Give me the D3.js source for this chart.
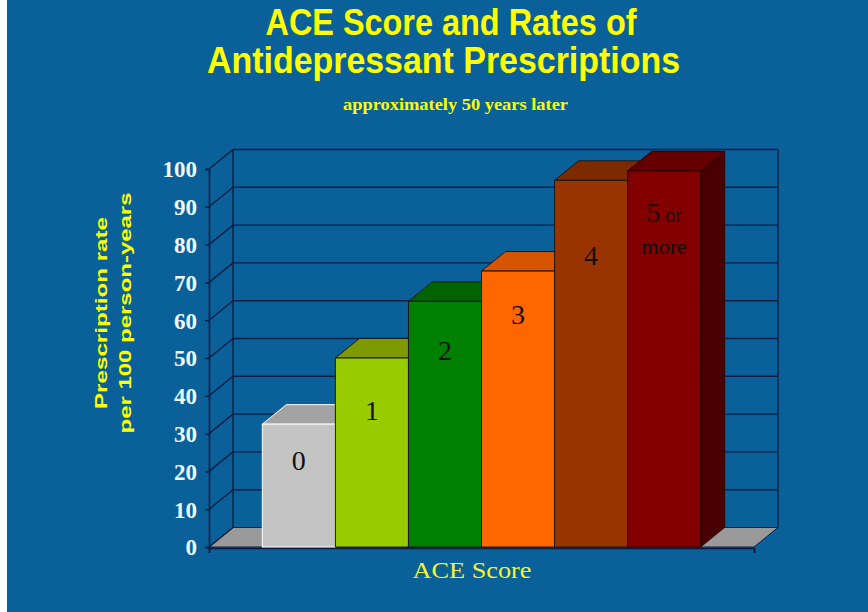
<!DOCTYPE html>
<html>
<head>
<meta charset="utf-8">
<script src="https://cdn.jsdelivr.net/npm/d3@7"></script>
<style>
  html, body { margin: 0; padding: 0; background: #ffffff; }
  svg { display: block; }
</style>
</head>
<body>
<svg id="chart" width="868" height="612"></svg>
<script>
// ---- data ----
const categories = ["0", "1", "2", "3", "4", "5 or more"];
const values = [32.5, 50, 65, 73, 97, 99.5];
const yTicks = [0, 10, 20, 30, 40, 50, 60, 70, 80, 90, 100];
const labelLines = [["0"], ["1"], ["2"], ["3"], ["4"], ["5 or", "more"]];
// value (data units) at which each in-bar label baseline sits
const labelAt = [[20.5], [33.5], [49.5], [59], [74.5], [86, 77.5]];

const titleLines = ["ACE Score and Rates of", "Antidepressant Prescriptions"];
const subtitle = "approximately 50 years later";
const yTitleLines = ["Prescription rate", "per 100 person-years"];
const xTitle = "ACE Score";

// ---- styles ----
const frontColors = ["#c4c4c4", "#99cc00", "#008000", "#ff6600", "#993300", "#830000"];
const topColors   = ["#a3a3a3", "#7f9a00", "#006400", "#d65500", "#7d2a00", "#660000"];
const sideColors  = ["#8a8a8a", "#5f7700", "#004d00", "#a84200", "#5c1f00", "#4a0000"];
const strokeColors = ["#ffffff", "#1a1a1a", "#1a1a1a", "#1a1a1a", "#1a1a1a", "#2a0000"];
const bg = "#0a619a";
const gridColor = "#0c1d44";

const svg = d3.select("#chart");

// background
svg.append("rect").attr("x", 7).attr("y", 0).attr("width", 861).attr("height", 612).attr("fill", bg);

// ---- scales ----
const y = d3.scaleLinear().domain([0, 100]).range([547, 169]);
const x = d3.scaleBand().domain(categories).range([209, 754]).paddingInner(0).paddingOuter(0.73);
const DX = 24, DY = -19.5;
const x0 = 209, x1 = 754;

// floor
svg.append("path")
  .attr("d", `M${x0},${y(0)} L${x0 + DX},${y(0) + DY} L${x1 + DX},${y(0) + DY} L${x1},${y(0)} Z`)
  .attr("fill", "#9a9a9a").attr("stroke", gridColor).attr("stroke-width", 1);

// back wall gridlines
svg.append("g").selectAll("line").data(yTicks.filter(d => d > 0)).join("line")
  .attr("x1", x0 + DX).attr("x2", x1 + DX)
  .attr("y1", d => y(d) + DY).attr("y2", d => y(d) + DY)
  .attr("stroke", gridColor).attr("stroke-width", 1.4);

// side wall diagonals
svg.append("g").selectAll("line").data(yTicks).join("line")
  .attr("x1", x0).attr("x2", x0 + DX)
  .attr("y1", d => y(d)).attr("y2", d => y(d) + DY)
  .attr("stroke", gridColor).attr("stroke-width", 1.4);

// back wall verticals
svg.append("line").attr("x1", x0 + DX).attr("x2", x0 + DX).attr("y1", y(0) + DY).attr("y2", y(100) + DY)
  .attr("stroke", gridColor).attr("stroke-width", 1.4);
svg.append("line").attr("x1", x1 + DX).attr("x2", x1 + DX).attr("y1", y(0) + DY).attr("y2", y(100) + DY)
  .attr("stroke", gridColor).attr("stroke-width", 1.4);

// y axis (front)
const yAxis = d3.axisLeft(y).tickValues(yTicks).tickSize(4).tickFormat(d3.format("d"));
const gy = svg.append("g").attr("transform", `translate(${x0},0)`).call(yAxis);
gy.select(".domain").attr("stroke", gridColor).attr("stroke-width", 1.6);
gy.selectAll(".tick line").attr("stroke", gridColor).attr("stroke-width", 1.4);
gy.selectAll(".tick text")
  .attr("x", -12)
  .attr("fill", "#eef8ff")
  .attr("font-family", "'Liberation Serif', 'Times New Roman', serif")
  .attr("font-weight", "bold")
  .attr("font-size", 23)
  .attr("dy", "0.34em");

// x axis line (front)
const xAxis = d3.axisBottom(d3.scaleLinear().domain([0, 1]).range([x0, x1])).tickValues([0, 1]).tickSize(5).tickFormat("");
const gx = svg.append("g").attr("transform", `translate(0,${y(0) + 1})`).call(xAxis);
gx.select(".domain").attr("stroke", gridColor).attr("stroke-width", 1.6);
gx.selectAll(".tick line").attr("stroke", gridColor).attr("stroke-width", 1.4);

// bars
const bw = x.bandwidth();
const bars = svg.append("g").selectAll("g").data(categories).join("g");
bars.each(function (c, i) {
  const g = d3.select(this);
  const L = x(c), R = x(c) + bw, T = y(values[i]), B = y(0);
  g.append("path")
    .attr("d", `M${R},${B} L${R + DX},${B + DY} L${R + DX},${T + DY} L${R},${T} Z`)
    .attr("fill", sideColors[i]).attr("stroke", strokeColors[i]).attr("stroke-width", 0.8);
  g.append("path")
    .attr("d", `M${L},${T} L${L + DX},${T + DY} L${R + DX},${T + DY} L${R},${T} Z`)
    .attr("fill", topColors[i]).attr("stroke", strokeColors[i]).attr("stroke-width", 1);
  g.append("rect")
    .attr("x", L).attr("y", T).attr("width", bw).attr("height", B - T)
    .attr("fill", frontColors[i]).attr("stroke", strokeColors[i]).attr("stroke-width", 1);
});

// in-bar labels
bars.each(function (c, i) {
  const g = d3.select(this);
  const cx = x(c) + bw / 2;
  labelLines[i].forEach((line, j) => {
    const t = g.append("text")
      .attr("x", cx)
      .attr("y", y(labelAt[i][j]))
      .attr("text-anchor", "middle")
      .attr("fill", "#141010")
      .attr("font-family", "'Liberation Serif', 'Times New Roman', serif")
      .attr("font-size", 28);
    if (line === "5 or") {
      t.append("tspan").text("5");
      t.append("tspan").attr("font-size", 20).text(" or");
    } else if (line === "more") {
      t.attr("font-size", 22).text(line);
    } else {
      t.text(line);
    }
  });
});

// titles
const sans = "'Liberation Sans', Arial, sans-serif";
const serif = "'Liberation Serif', 'Times New Roman', serif";
svg.append("text").attr("x", 451).attr("y", 35).attr("text-anchor", "middle")
  .attr("fill", "#ffff00").attr("font-family", sans).attr("font-weight", "bold").attr("font-size", 37)
  .attr("textLength", 371).attr("lengthAdjust", "spacingAndGlyphs")
  .text(titleLines[0]);
svg.append("text").attr("x", 443.5).attr("y", 73).attr("text-anchor", "middle")
  .attr("fill", "#ffff00").attr("font-family", sans).attr("font-weight", "bold").attr("font-size", 36)
  .attr("textLength", 473).attr("lengthAdjust", "spacingAndGlyphs")
  .text(titleLines[1]);
svg.append("text").attr("x", 455.5).attr("y", 110).attr("text-anchor", "middle")
  .attr("fill", "#ffff00").attr("font-family", serif).attr("font-weight", "bold").attr("font-size", 16)
  .attr("textLength", 225).attr("lengthAdjust", "spacingAndGlyphs")
  .text(subtitle);

// y title
const yt = svg.append("g").attr("transform", "translate(0,313)");
yt.append("text").attr("transform", "translate(107,0) rotate(-90)").attr("text-anchor", "middle")
  .attr("fill", "#ffff00").attr("font-family", sans).attr("font-weight", "bold").attr("font-size", 17)
  .attr("textLength", 192).attr("lengthAdjust", "spacingAndGlyphs")
  .text(yTitleLines[0]);
yt.append("text").attr("transform", "translate(131,0) rotate(-90)").attr("text-anchor", "middle")
  .attr("fill", "#ffff00").attr("font-family", sans).attr("font-weight", "bold").attr("font-size", 17)
  .attr("textLength", 241).attr("lengthAdjust", "spacingAndGlyphs")
  .text(yTitleLines[1]);

// x title
svg.append("text").attr("x", 472).attr("y", 578).attr("text-anchor", "middle")
  .attr("fill", "#f4f43a").attr("font-family", serif).attr("font-size", 23)
  .attr("textLength", 119).attr("lengthAdjust", "spacingAndGlyphs")
  .text(xTitle);
</script>
</body>
</html>
